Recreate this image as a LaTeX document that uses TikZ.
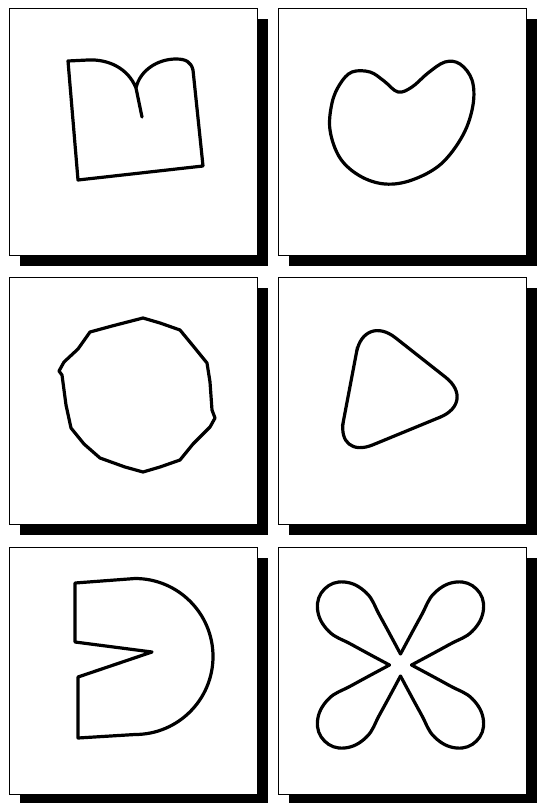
\documentclass[tikz,border=0pt]{standalone}
\usepackage{tikz}
\usepackage{xcolor}
\usetikzlibrary{shadows}
\definecolor{shpInk}{HTML}{000000}
\definecolor{shpPaper}{HTML}{ffffff}
\tikzset{
  shp panel/.style={
    rectangle,
    draw=shpInk,
    line width=1pt,
    fill=shpPaper,
    minimum width=248pt,
    minimum height=247pt,
    inner sep=0pt,
    outer sep=0pt,
    drop shadow={shadow xshift=11pt, shadow yshift=-11pt, fill=shpInk, opacity=1},
  },
}
\tikzset{
  shp outline/.style={
    draw=shpInk,
    line width=3.2pt,
    line join=round,
    line cap=round,
  },
}
\tikzset{
  shp figure/.style={
    x=1pt,
    y=-1pt,
  },
}
\begin{document}
\begin{tikzpicture}[shp figure]

  \useasboundingbox (0,0) rectangle (539,803);

  % =========================================================================
  % Panels (3 rows x 2 columns), each with a solid drop shadow
  % =========================================================================
  \node[shp panel] (blk) at (133, 131.5) {};
  \node[shp panel] (kid) at (402, 131.5) {};
  \node[shp panel] (oct) at (133, 400.5) {};
  \node[shp panel] (tri) at (402, 400.5) {};
  \node[shp panel] (pac) at (133, 670.5) {};
  \node[shp panel] (clv) at (402, 670.5) {};

  % =========================================================================
  % Top left: block with two lobes and a slit
  % =========================================================================
  \draw[shp outline]
    (142, 117) -- (136, 88)
    .. controls (128, 68) and (108, 59) .. (88, 60)
    -- (68, 61)   % top-left corner
    -- (78, 180)  % bottom-left
    -- (203, 166) % bottom-right
    -- (193, 70)
    .. controls (191, 62) and (186, 59) .. (176, 59)
    .. controls (158, 59) and (140, 70) .. (136, 88);

  % =========================================================================
  % Top right: kidney
  % =========================================================================
  \draw[shp outline] plot[smooth cycle, tension=0.6] coordinates {
    (352, 72) (370, 72) (384, 81) (398, 92) (412, 87) (428, 73)
    (445, 62) (460, 64) (472, 80) (473, 105) (463, 135) (441, 164)
    (412, 180) (385, 184) (360, 176) (340, 158) (330, 130) (332, 103)
    (340, 84)};

  % =========================================================================
  % Middle left: rough polygon
  % =========================================================================
  \draw[shp outline]
    (143, 318) -- (160, 323) -- (180, 330) -- (194, 347) -- (207, 363)
    -- (210, 382) -- (212, 410) -- (215, 418) -- (210, 427) -- (193, 444)
    -- (180, 460) -- (160, 467) -- (143, 472) -- (125, 467) -- (100, 458)
    -- (84, 444) -- (71, 428) -- (66, 405) -- (62, 375) -- (59, 371)
    -- (64, 362) -- (78, 349) -- (90, 332) -- (112, 326) -- cycle;

  % =========================================================================
  % Middle right: rounded triangle
  % =========================================================================
  \draw[shp outline, rounded corners=40pt]
    (350, 386.5) -- (364, 313) -- (477, 402) -- (336, 460) -- cycle;

  % =========================================================================
  % Bottom left: disc with a wedge cut out
  % =========================================================================
  \draw[shp outline]
    (75, 583) -- (135, 578.5)
    arc (-90:90:78)
    -- (78, 738) -- (78, 677)
    -- (152, 652) % wedge tip
    -- (75, 642)
    -- cycle;

  % =========================================================================
  % Bottom right: four lobes
  % =========================================================================
  \coordinate (clvmid) at (400.5, 665);
  \foreach \ang in {0, 90, 180, 270} {
    \draw[shp outline, shift={(clvmid)}, rotate=\ang]
      plot[smooth, tension=0.7] coordinates {
        (0, -11) (-20, -48) (-34, -72) (-56, -83) (-76, -76)
        (-83, -56) (-72, -34) (-48, -20) (-11, 0)};
  }

\end{tikzpicture}
\end{document}
